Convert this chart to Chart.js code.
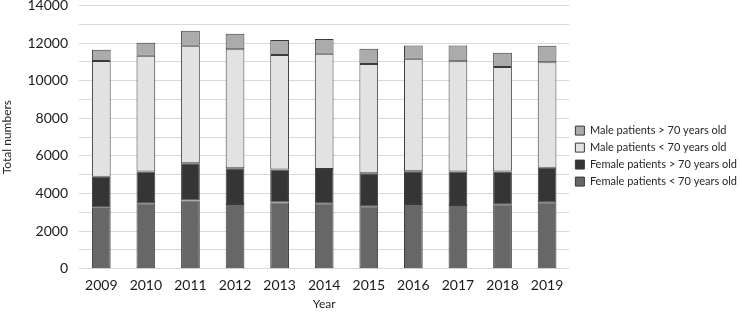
<!DOCTYPE html>
<html>
<head>
<meta charset="utf-8">
<script src="https://cdn.jsdelivr.net/npm/chart.js@4.4.1/dist/chart.umd.min.js"></script>
<style>
    html, body { margin: 0; padding: 0; background: #fff; }
    #wrap { width: 742px; height: 313px; overflow: hidden; position: relative; }
    /* the top tick label is cut off in the original, so the canvas sits a bit higher */
    #chart { position: absolute; left: 0; top: -14px; }
</style>
</head>
<body>
<div id="wrap"><canvas id="chart" width="747" height="327"></canvas></div>
<script>
// Years on the x axis
const years = ['2009', '2010', '2011', '2012', '2013', '2014', '2015', '2016', '2017', '2018', '2019'];

// Stacked segments, bottom to top
const femaleUnder70 = [3250, 3480, 3630, 3450, 3520, 3480, 3320, 3450, 3390, 3430, 3540];
const femaleOver70 = [1640, 1690, 1985, 1900, 1760, 1830, 1760, 1740, 1780, 1740, 1830];
const maleUnder70 = [6160, 6150, 6235, 6325, 6090, 6115, 5810, 5970, 5865, 5560, 5610];
const maleOver70 = [590, 690, 800, 815, 785, 785, 800, 710, 835, 750, 870];

const FONT = 'Lato, "Open Sans", sans-serif';

function seg(label, data, color) {
    return {
        label: label,
        data: data,
        backgroundColor: color,
        borderColor: '#3a3a3a',
        borderWidth: 1,
        borderSkipped: false,
        categoryPercentage: 1,
        barPercentage: 0.42
    };
}

const ctx = document.getElementById('chart').getContext('2d');
new Chart(ctx, {
    type: 'bar',
    data: {
        labels: years,
        datasets: [
            seg('Female patients < 70 years old', femaleUnder70, '#676767'),
            seg('Female patients > 70 years old', femaleOver70, '#353535'),
            seg('Male patients < 70 years old', maleUnder70, '#e2e2e2'),
            seg('Male patients > 70 years old', maleOver70, '#ababab')
        ]
    },
    options: {
        responsive: false,
        animation: false,
        layout: { padding: { top: 0, right: 0, bottom: 2, left: 0 } },
        plugins: {
            legend: {
                position: 'right',
                reverse: true,
                // blank title only pushes the items down a little
                title: { display: true, text: ' ', font: { family: FONT, size: 11 }, padding: { top: 0, bottom: 2 } },
                labels: {
                    color: '#262626',
                    boxWidth: 9,
                    boxHeight: 9,
                    padding: 6,
                    font: { family: FONT, size: 11 }
                }
            },
            tooltip: { enabled: false }
        },
        scales: {
            x: {
                stacked: true,
                grid: { display: false },
                border: { display: false },
                ticks: { color: '#1a1a1a', font: { family: FONT, size: 14, lineHeight: 1 }, padding: 2 },
                title: {
                    display: true,
                    text: 'Year',
                    color: '#262626',
                    font: { family: FONT, size: 12, lineHeight: 1.1 },
                    padding: { top: 3, bottom: 0 }
                }
            },
            y: {
                stacked: true,
                min: 0,
                max: 14000,
                border: { display: false },
                grid: { color: '#d9d9d9', drawTicks: false },
                ticks: {
                    stepSize: 1000,
                    autoSkip: false,
                    padding: 11,
                    color: '#1a1a1a',
                    font: { family: FONT, size: 14 },
                    callback: v => (v % 2000 === 0 ? String(v) : '')
                },
                title: {
                    display: true,
                    text: 'Total numbers',
                    color: '#262626',
                    font: { family: FONT, size: 12 },
                    padding: { top: 0, bottom: 2 }
                }
            }
        }
    }
});
</script>
</body>
</html>
